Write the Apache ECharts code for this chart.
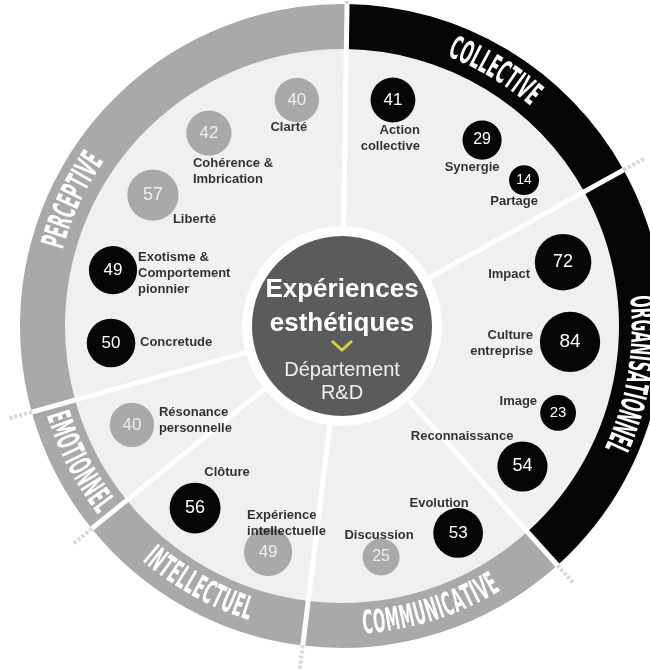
<!DOCTYPE html>
<html><head><meta charset="utf-8">
<style>html,body{margin:0;padding:0;background:#fff}#c{width:650px;height:671px}</style>
<script src="https://cdn.jsdelivr.net/npm/echarts/dist/echarts.min.js"></script>
</head><body><div id="c"></div>
<script>
// ---------------- DATA ----------------
const dimensions = ['COLLECTIVE','ORGANISATIONNEL','COMMUNICATIVE','INTELLECTUEL','EMOTIONNEL','PERCEPTIVE'];
const dimensionSpan = [60.1, 77, 49, 44, 23.5, 106.4];      // angular share of each dimension (deg)
const dimensionDark = [1, 1, 0, 0, 0, 0];

const items = ['Action\ncollective','Synergie','Partage','Impact','Culture\nentreprise','Image','Reconnaissance',
  'Evolution','Discussion','Expérience\nintellectuelle','Clôture','Résonance\npersonnelle','Concretude',
  'Exotisme &\nComportement\npionnier','Liberté','Cohérence &\nImbrication','Clarté'];
const itemValues = [41, 29, 14, 72, 84, 23, 54, 53, 25, 49, 56, 40, 50, 49, 57, 42, 40];
const itemDark   = [1, 1, 1, 1, 1, 1, 1, 1, 0, 0, 1, 0, 1, 1, 0, 0, 0];

const centerTitle = ['Expériences', 'esthétiques'];
const centerSub = ['Département', 'R&D'];

// ---------------- LAYOUT ----------------
const CX = 342, CY = 326;
const R_OUT = 322, R_IN = 277, R_HOLE = 100, R_CORE = 90, R_EXT = 346;
const startAngle = 0.9;
// polar placement of bubbles (angle clockwise from top, radial distance)
const itemAngle  = [12.7, 37.0, 51.3, 73.9, 94.0, 111.9, 127.9, 150.7, 170.4, 198.1, 218.9, 244.8, 265.8, 283.7, 304.7, 325.4, 348.7];
const itemRadius = [231.7, 232.8, 233.3, 230.1, 228.6, 232.9, 228.7, 237.3, 234.3, 237.8, 234, 232.2, 231.6, 235.7, 230, 234.4, 230.4];
// name label placement: [dx, dy, align]
const labelLayout = [
  [27, 38, 'right'], [-10, 27, 'center'], [-10, 21, 'center'], [-33, 12, 'right'], [-37, 1, 'right'],
  [-21, -11, 'right'], [-9, -30, 'right'], [-19, -30, 'center'], [-2, -22, 'center'], [-21, -29, 'left'],
  [32, -36, 'center'], [27, -4, 'left'], [29, -1, 'left'], [25, 3, 'left'], [20, 24, 'left'],
  [-16, 38, 'left'], [-8, 27, 'center']
];
const ringLabelAngle = [null, null, null, null, null, 295];

const BLACK = '#060606', GREY = '#a7a9ab', LIGHT = '#f0f0f0', CORE = '#5a5b5d';

// ---------------- BUILD ----------------
const chart = echarts.init(document.getElementById('c'), null, {renderer: 'canvas'});

function bubbleSize(v) { return 5.6 * Math.sqrt(v) + 9; }

const bounds = [];
let acc = startAngle;
bounds.push(acc);
dimensionSpan.forEach((s, i) => { acc += s; if (i < dimensionSpan.length - 1) bounds.push(acc); });

const series = [];
series.push({
  type: 'pie', silent: true, center: [CX, CY], radius: [R_HOLE, R_IN + 1], label: {show: false},
  data: [{value: 1, itemStyle: {color: LIGHT}}], animation: false
});
series.push({
  type: 'pie', silent: true, center: [CX, CY], radius: [R_IN, R_OUT], startAngle: 90 - startAngle, clockwise: true,
  label: {show: false}, labelLine: {show: false}, animation: false,
  data: dimensions.map((d, i) => ({name: d, value: dimensionSpan[i], itemStyle: {color: dimensionDark[i] ? BLACK : GREY}}))
});
series.push({
  type: 'pie', silent: true, center: [CX, CY], radius: [0, R_CORE], label: {show: false}, animation: false,
  data: [{value: 1, itemStyle: {color: CORE}}]
});
bounds.forEach(a => {
  series.push({type: 'line', coordinateSystem: 'polar', silent: true, symbol: 'none', animation: false,
    lineStyle: {color: '#ffffff', width: 5}, data: [[R_HOLE - 2, a], [R_OUT, a]]});
  series.push({type: 'line', coordinateSystem: 'polar', silent: true, symbol: 'none', animation: false,
    lineStyle: {color: '#d8d8d8', width: 4, type: [3, 2]}, data: [[R_OUT, a], [R_EXT, a]]});
});
series.push({
  type: 'scatter', coordinateSystem: 'polar', silent: true, animation: false, z: 5,
  data: items.map((n, i) => ({
    name: n, value: [itemRadius[i], itemAngle[i], itemValues[i]],
    symbolSize: bubbleSize(itemValues[i]),
    itemStyle: {color: itemDark[i] ? BLACK : GREY, opacity: 1},
    label: {show: true, position: 'inside', formatter: String(itemValues[i]),
      color: itemDark[i] ? '#ffffff' : '#eeeeee',
      fontFamily: 'Liberation Sans, Arial, sans-serif', fontSize: Math.round(10 + bubbleSize(itemValues[i]) * 0.15)}
  }))
});
series.push({
  type: 'scatter', coordinateSystem: 'polar', silent: true, animation: false, z: 6, symbolSize: 0,
  data: items.map((n, i) => ({
    name: n, value: [itemRadius[i], itemAngle[i]],
    label: {show: true, position: 'inside', formatter: n, offset: [labelLayout[i][0], labelLayout[i][1]],
      align: labelLayout[i][2], verticalAlign: 'middle', color: '#000000', fontWeight: 'bold',
      fontFamily: 'Liberation Sans, Arial, sans-serif', fontSize: 13, lineHeight: 16}
  }))
});

// curved ring labels
const mctx = document.createElement('canvas').getContext('2d');
function ringText(label, thetaDeg, r, outward, fontSize, sx) {
  const font = 'bold ' + fontSize + 'px "DejaVu Sans", "Liberation Sans", Arial, sans-serif';
  mctx.font = font;
  const letters = label.split('');
  const gap = 0.3;
  const widths = letters.map(ch => mctx.measureText(ch).width * sx);
  const total = widths.reduce((a, b) => a + b, 0) + gap * (letters.length - 1);
  const els = [];
  let cum = 0;
  letters.forEach((ch, i) => {
    const s = cum + widths[i] / 2 - total / 2;
    cum += widths[i] + gap;
    const th = thetaDeg * Math.PI / 180 + (outward ? s / r : -s / r);
    const x = CX + r * Math.sin(th), y = CY - r * Math.cos(th);
    const rot = outward ? -th : -(th - Math.PI);
    els.push({type: 'text', x: x, y: y, rotation: rot, scaleX: sx, silent: true, z: 100,
      style: {text: ch, font: font, fill: '#ffffff', align: 'center', verticalAlign: 'middle'}});
  });
  return els;
}
const graphics = [];
let a0 = startAngle;
dimensions.forEach((d, i) => {
  const mid = a0 + dimensionSpan[i] / 2;
  a0 += dimensionSpan[i];
  const th = ringLabelAngle[i] != null ? ringLabelAngle[i] : mid;
  const norm = ((th % 360) + 360) % 360;
  const outward = !(norm > 135 && norm < 255);
  ringText(d, th, outward ? 298 : 300, outward, 32, 0.45).forEach(e => graphics.push(e));
});
// centre texts
graphics.push({type: 'text', x: CX, y: 290, silent: true, z: 100,
  style: {text: centerTitle[0], font: 'bold 26px "Liberation Sans", Arial, sans-serif', fill: '#ffffff', align: 'center', verticalAlign: 'middle'}});
graphics.push({type: 'text', x: CX, y: 324, silent: true, z: 100,
  style: {text: centerTitle[1], font: 'bold 26px "Liberation Sans", Arial, sans-serif', fill: '#ffffff', align: 'center', verticalAlign: 'middle'}});
graphics.push({type: 'polyline', silent: true, z: 100, shape: {points: [[CX - 10, 341], [CX, 350], [CX + 10, 341]]},
  style: {stroke: '#d9d436', lineWidth: 3, fill: null}});
graphics.push({type: 'text', x: CX, y: 370, silent: true, z: 100,
  style: {text: centerSub[0], font: '20px "Liberation Sans", Arial, sans-serif', fill: '#f0f0f0', align: 'center', verticalAlign: 'middle'}});
graphics.push({type: 'text', x: CX, y: 393, silent: true, z: 100,
  style: {text: centerSub[1], font: '20px "Liberation Sans", Arial, sans-serif', fill: '#f0f0f0', align: 'center', verticalAlign: 'middle'}});

chart.setOption({
  animation: false,
  backgroundColor: '#ffffff',
  polar: {center: [CX, CY], radius: R_EXT},
  angleAxis: {type: 'value', min: 0, max: 360, startAngle: 90, clockwise: true, show: false},
  radiusAxis: {type: 'value', min: 0, max: R_EXT, show: false},
  series: series,
  graphic: graphics
});
</script></body></html>
